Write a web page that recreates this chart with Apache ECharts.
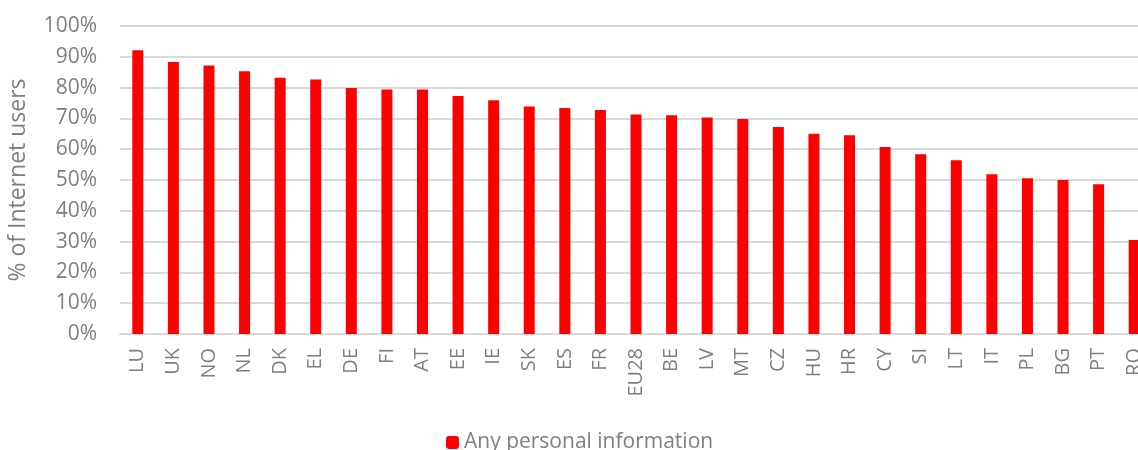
<!DOCTYPE html>
<html>
<head>
<meta charset="utf-8">
<script src="https://cdn.jsdelivr.net/npm/echarts@6/dist/echarts.min.js"></script>
<style>
  html, body { margin: 0; padding: 0; background: #fff; }
  #chart { width: 1138px; height: 450px; }
</style>
</head>
<body>
<div id="chart"></div>
<script>
const countries = ["LU", "UK", "NO", "NL", "DK", "EL", "DE", "FI", "AT", "EE", "IE", "SK", "ES", "FR", "EU28",
  "BE", "LV", "MT", "CZ", "HU", "HR", "CY", "SI", "LT", "IT", "PL", "BG", "PT", "RO"];
const personalInfo = [92.1, 88.3, 87.2, 85.3, 83.2, 82.6, 79.9, 79.4, 79.4, 77.3, 75.9, 73.9, 73.4, 72.7, 71.3,
  71.0, 70.3, 69.8, 67.2, 65.0, 64.5, 60.7, 58.4, 56.4, 51.9, 50.6, 50.0, 48.6, 30.5];

const textColor = "#7f7f7f";
const font = "'Open Sans', sans-serif";

const myChart = echarts.init(document.getElementById("chart"), null, { renderer: "canvas" });
const option = {
  animation: false,
  textStyle: { fontFamily: font },
  grid: {
    left: 120,
    width: 1032,
    top: 26,
    height: 308,
    outerBoundsMode: "none"
  },
  legend: {
    top: 427,
    left: 441,
    itemWidth: 13,
    itemHeight: 13,
    textStyle: { color: textColor, fontSize: 21, fontFamily: font },
    data: ["Any personal information"]
  },
  xAxis: {
    type: "category",
    data: countries,
    axisLine: { lineStyle: { color: "#d9d9d9", width: 2 } },
    axisTick: { show: false },
    axisLabel: {
      rotate: 90,
      interval: 0,
      color: textColor,
      fontSize: 20,
      fontFamily: font,
      margin: 14
    }
  },
  yAxis: {
    type: "value",
    min: 0,
    max: 100,
    interval: 10,
    name: "% of Internet users",
    nameLocation: "middle",
    nameGap: 90,
    nameTextStyle: { color: textColor, fontSize: 23, fontFamily: font },
    axisLine: { show: false },
    axisTick: { show: false },
    axisLabel: {
      color: textColor,
      fontSize: 21,
      fontFamily: font,
      margin: 23,
      formatter: "{value}%"
    },
    splitLine: { lineStyle: { color: "#d9d9d9", width: 2 } }
  },
  series: [
    {
      name: "Any personal information",
      type: "bar",
      barWidth: 11,
      itemStyle: { color: "#ff0000" },
      data: personalInfo
    }
  ]
};
myChart.setOption(option);
</script>
</body>
</html>
